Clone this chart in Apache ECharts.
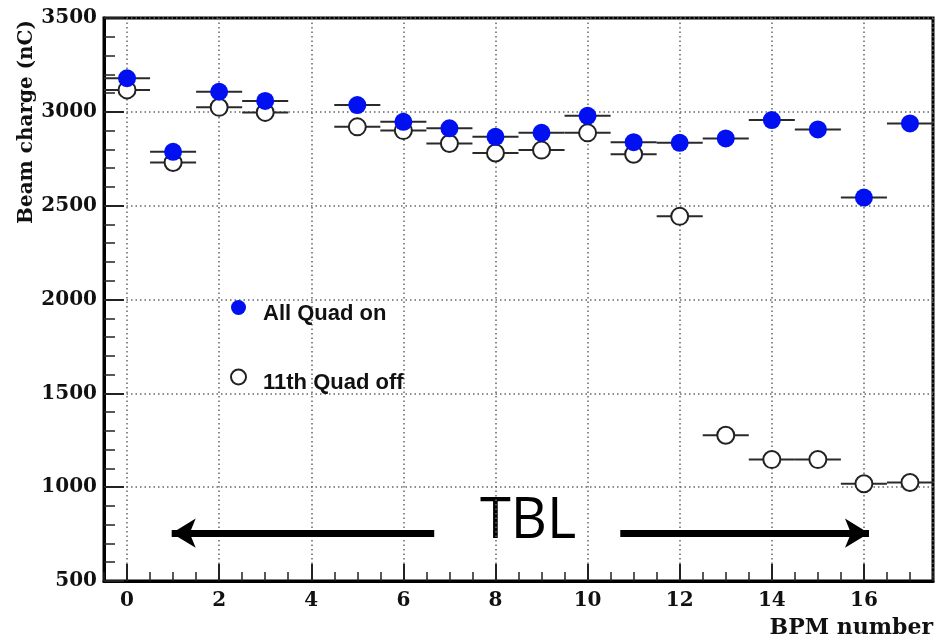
<!DOCTYPE html>
<html>
<head>
<meta charset="utf-8">
<script src="https://cdn.jsdelivr.net/npm/echarts@6/dist/echarts.min.js"></script>
<style>
html,body{margin:0;padding:0;background:#fff;}
#chart{width:936px;height:640px;}
</style>
</head>
<body>
<div id="chart"></div>
<script>
// ---- data ----
const bpmNumbers = [0, 1, 2, 3, 5, 6, 7, 8, 9, 10, 11, 12, 13, 14, 15, 16, 17];
const allQuadOn  = [3179, 2787, 3107, 3058, 3036, 2947, 2912, 2867, 2888, 2979, 2838, 2835, 2858, 2956, 2906, 2543, 2938];
const quadOff11  = [3117, 2730, 3024, 2997, 2920, 2900, 2831, 2781, 2796, 2888, 2774, 2443, 1277, 1147, 1147, 1018, 1025];
const seriesNames = ['All Quad on', '11th Quad off'];
const xTitle = 'BPM number';
const yTitle = 'Beam charge (nC)';
const annotationText = 'TBL';
const binHalfWidth = 0.5;

const onPoints  = bpmNumbers.map((b, i) => [b, allQuadOn[i]]);
const offPoints = bpmNumbers.map((b, i) => [b, quadOff11[i]]);

function renderBar(params, api) {
  const x = api.value(0), y = api.value(1);
  const p1 = api.coord([x - binHalfWidth, y]);
  const p2 = api.coord([x + binHalfWidth, y]);
  return {
    type: 'line',
    shape: {x1: p1[0], y1: p1[1], x2: p2[0], y2: p2[1]},
    style: {stroke: '#2a2a2a', lineWidth: 2}
  };
}

const serifBold = 'bold 20px "DejaVu Serif"';
const chart = echarts.init(document.getElementById('chart'));
chart.setOption({
  animation: false,
  backgroundColor: '#ffffff',
  grid: {left: 104, top: 18, right: 3, bottom: 59, show: true, borderColor: '#000', borderWidth: 3, containLabel: false},
  legend: {
    orient: 'vertical', left: 225, top: 295, itemGap: 44,
    itemWidth: 15, itemHeight: 15,
    data: [{name: seriesNames[0], icon: 'circle'}, {name: seriesNames[1], icon: 'circle'}],
    formatter: '{t|{name}}',
    textStyle: {
      fontFamily: 'Liberation Sans', fontWeight: 'bold', fontSize: 22, color: '#111',
      rich: {t: {fontFamily: 'Liberation Sans', fontWeight: 'bold', fontSize: 22, color: '#111', padding: [12, 0, 0, 12]}}
    }
  },
  xAxis: [{
    type: 'value', min: -0.5, max: 17.5, splitNumber: 9, position: 'bottom',
    axisLine: {show: true, onZero: false, lineStyle: {color: '#000', width: 3}},
    axisTick: {show: true, inside: true, length: 17, lineStyle: {color: '#222', width: 2}},
    axisLabel: {showMinLabel: false, showMaxLabel: false, margin: 10, color: '#111', fontFamily: 'DejaVu Serif', fontWeight: 'bold', fontSize: 20},
    splitLine: {show: true, lineStyle: {color: '#666', width: 1.5, type: [1.5, 3]}}
  }, {
    type: 'value', min: -0.5, max: 17.5, interval: 0.5, position: 'bottom',
    axisLine: {show: false, onZero: false},
    axisTick: {show: true, inside: true, length: 9, lineStyle: {color: '#222', width: 1.5}},
    axisLabel: {show: false},
    splitLine: {show: false}
  }],
  yAxis: {
    type: 'value', min: 500, max: 3500, interval: 500,
    axisLine: {show: true, onZero: false, lineStyle: {color: '#000', width: 3}},
    axisTick: {show: true, inside: true, length: 20, lineStyle: {color: '#222', width: 2}},
    minorTick: {show: true, splitNumber: 5, length: 11, lineStyle: {color: '#222', width: 1.5}},
    axisLabel: {margin: 7, color: '#111', fontFamily: 'DejaVu Serif', fontWeight: 'bold', fontSize: 20,
                formatter: v => String(v)},
    splitLine: {show: true, lineStyle: {color: '#666', width: 1.5, type: [1.5, 3]}}
  },
  graphic: [
    {type: 'text', x: 27, y: 122, rotation: Math.PI / 2,
     style: {text: yTitle, font: serifBold, fill: '#111', textAlign: 'center', textVerticalAlign: 'middle'}},
    {type: 'text', x: 933, y: 628,
     style: {text: xTitle, font: 'bold 22px "DejaVu Serif"', fill: '#111', textAlign: 'right', textVerticalAlign: 'middle'}},
    {type: 'text', x: 528, y: 522,
     style: {text: annotationText, font: '56px "Open Sans"', fill: '#000', textAlign: 'center', textVerticalAlign: 'middle'}}
  ],
  series: [
    {type: 'custom', name: seriesNames[1] + ' err', xAxisIndex: 0, renderItem: renderBar, data: offPoints, z: 2, silent: true},
    {type: 'scatter', name: seriesNames[1], xAxisIndex: 0, data: offPoints, symbol: 'circle', symbolSize: 17, z: 3,
     itemStyle: {color: '#ffffff', borderColor: '#222', borderWidth: 2, opacity: 1},
     markLine: {
       silent: true, symbol: ['none', 'arrow'], symbolSize: [22, 24],
       lineStyle: {color: '#000', width: 7, type: 'solid'}, label: {show: false},
       data: [
         [{coord: [6.67, 755]}, {coord: [0.97, 755]}],
         [{coord: [10.71, 755]}, {coord: [16.11, 755]}]
       ]
     }},
    {type: 'custom', name: seriesNames[0] + ' err', xAxisIndex: 0, renderItem: renderBar, data: onPoints, z: 4, silent: true},
    {type: 'scatter', name: seriesNames[0], xAxisIndex: 0, data: onPoints, symbol: 'circle', symbolSize: 18, z: 5,
     itemStyle: {color: '#0010f0', opacity: 1}}
  ]
});
</script>
</body>
</html>
